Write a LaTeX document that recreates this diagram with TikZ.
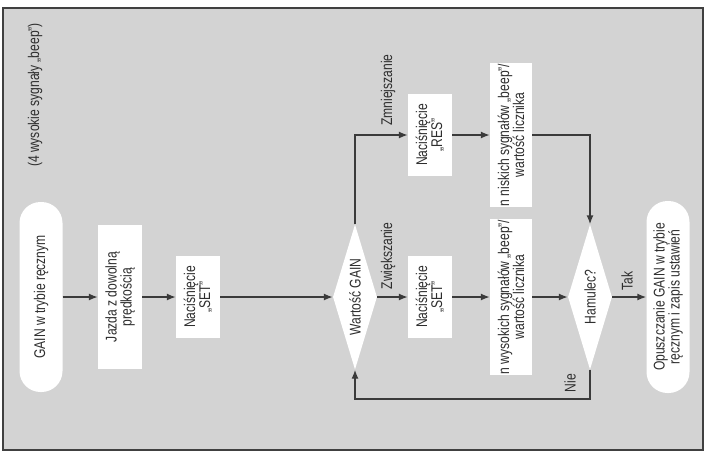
\documentclass[tikz,border=0pt]{standalone}
\usepackage{fontspec}
\setmainfont[FakeStretch=0.78]{Liberation Sans}
\usetikzlibrary{arrows.meta,shapes.geometric}
\definecolor{tlo}{RGB}{211,211,211}
\definecolor{linia}{RGB}{58,58,58}
\begin{document}
\begin{tikzpicture}[x=1pt,y=1pt,>={Latex[length=9pt,width=7pt]},
    every node/.style={font=\fontsize{15.5}{15}\selectfont,text=black!82,align=center,rotate=90,inner sep=1pt},
    blok/.style={fill=white,minimum height=44,minimum width=#1},
    owal/.style={fill=white,minimum height=43,minimum width=#1,rounded corners=21},
    romb/.style={diamond,fill=white,aspect=3.3,inner sep=0,minimum height=44,minimum width=145},
    strzalka/.style={->,line width=1.4,draw=linia}]
    \useasboundingbox (0,0) rectangle (706,-453);
    \draw[line width=2,draw=black!75,fill=tlo] (3,-8) rectangle (703,-450);
    \node (opis) at (35,-95){(4 wysokie sygnały „beep”)};
% glowny ciag
    \node[owal=190] (start) at (41,-297){GAIN w trybie ręcznym};
    \node[blok=144] (jazda) at (120,-297){Jazda z dowolną\\prędkością};
    \node[blok=82] (set) at (198,-297){Naciśnięcie\\„SET”};
    \node[romb] (wartosc) at (355,-297){Wartość GAIN};
    \node[blok=82] (set2) at (430,-297){Naciśnięcie\\„SET”};
    \node[blok=82] (res) at (430,-135){Naciśnięcie\\„RES”};
    \node[blok=145, minimum height=42] (wysokie) at (511,-297){n wysokich sygnałów „beep”/\\wartość licznika};
    \node[blok=142, minimum height=42] (niskie) at (511,-135){n niskich sygnałów „beep”/\\wartość licznika};
    \node[romb] (hamulec) at (590,-297){Hamulec?};
    \node[owal=192] (koniec) at (668,-297){Opuszczanie GAIN w trybie\\ręcznym i zapis ustawień};
    \coordinate (petla) at (590,-399);
\foreach \a/\b in {start/jazda,jazda/set,set/wartosc,wartosc/set2,set2/wysokie,wysokie/hamulec,res/niskie,hamulec/koniec}
{
    \draw[strzalka] (\a)--(\b);
}
    \draw[strzalka] (wartosc)|-(res);
    \draw[strzalka] (niskie)-|(hamulec);
    \draw[strzalka] (hamulec)--(petla)-|(wartosc);
    \node (zmn) at (388,-90){Zmniejszanie};
    \node (zwi) at (388,-256){Zwiększanie};
    \node (tak) at (627,-281){Tak};
    \node (nie) at (570,-383){Nie};

\end{tikzpicture}
\end{document}
